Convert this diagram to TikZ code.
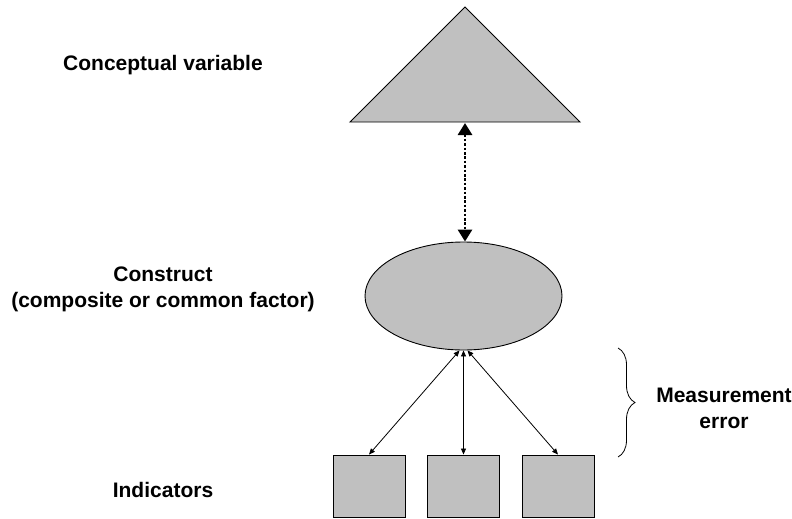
\documentclass[tikz,border=0pt]{standalone}
\usepackage{fontspec}
\setmainfont{Liberation Sans}
\usetikzlibrary{arrows.meta,decorations.pathreplacing,shapes.geometric}
\definecolor{shapegray}{RGB}{192,192,192}
\begin{document}
\begin{tikzpicture}[x=1pt,y=-1pt,
  lbl/.style={font=\bfseries\fontsize{21}{26}\selectfont, align=center, inner sep=0pt},
  shapeline/.style={draw=black, line width=0.9pt, fill=shapegray},
  indbox/.style={shapeline, rectangle, minimum width=72pt, minimum height=62pt, inner sep=0pt},
  thinarrow/.style={line width=0.8pt, {Triangle[width=5pt,length=6pt]}-{Triangle[width=5pt,length=6pt]}},
  dotarrow/.style={line width=2.8pt, dash pattern=on 2.6pt off 1.8pt, {Triangle[width=14pt,length=12pt]}-{Triangle[width=14pt,length=12pt]}}
]
\useasboundingbox (0,0) rectangle (792,519);
% conceptual variable (triangle)
\coordinate (tL) at (350,122);
\coordinate (tT) at (465,7);
\coordinate (tR) at (580,122);
\coordinate (tB) at (465,123);
\draw[shapeline, line join=miter] (tL) -- (tT) -- (tR) -- cycle;
% construct (ellipse)
\node[shapeline, ellipse, minimum width=197pt, minimum height=108pt, inner sep=0pt] (con) at (463.5,296) {};
% indicators
\node[indbox] (i1) at (369,486) {};
\node[indbox] (i2) at (463,486) {};
\node[indbox] (i3) at (558,486) {};
% connectors
\draw[dotarrow] (tB) -- (tB |- con.north);
\coordinate (c1) at ([xshift=-4pt]con.south);
\coordinate (c2) at (con.south);
\coordinate (c3) at ([xshift=4pt]con.south);
\draw[thinarrow] (c1) -- (i1.north);
\draw[thinarrow] (c2) -- (c2 |- i2.north);
\draw[thinarrow] (c3) -- (i3.north);
% brace
\coordinate (bT) at (618,348);
\coordinate (bB) at (618,457);
\draw[line width=0.8pt, decorate, decoration={brace, amplitude=17pt}] (bT) -- (bB);
% labels
\node[lbl] (lcv) at (163,65) {Conceptual variable};
\node[lbl] (lcon) at (163,289) {Construct\\(composite or common factor)};
\node[lbl] (lind) at (163,490) {Indicators};
\node[lbl] (lme) at (724,408) {Measurement\\error};
\end{tikzpicture}
\end{document}
